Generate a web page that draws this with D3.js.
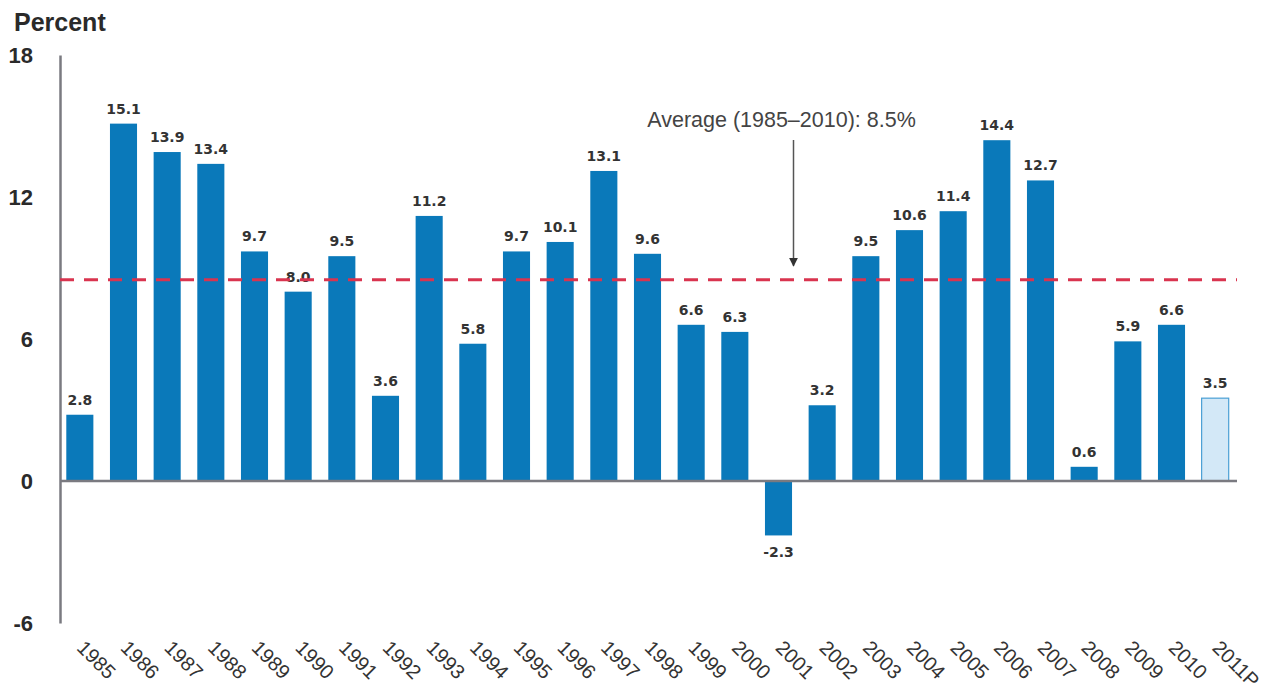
<!DOCTYPE html>
<html>
<head>
<meta charset="utf-8">
<script src="https://cdn.jsdelivr.net/npm/d3@7"></script>
<style>
  html, body { margin: 0; padding: 0; background: #fff; }
  svg { display: block; font-family: "Liberation Sans", Arial, sans-serif; }
</style>
</head>
<body>
<svg id="chart" width="1266" height="694"></svg>
<script>
// Annual growth, percent
const years = ["1985","1986","1987","1988","1989","1990","1991","1992","1993","1994",
  "1995","1996","1997","1998","1999","2000","2001","2002","2003","2004","2005",
  "2006","2007","2008","2009","2010","2011P"];
const values = [2.8,15.1,13.9,13.4,9.7,8.0,9.5,3.6,11.2,5.8,9.7,10.1,13.1,9.6,
  6.6,6.3,-2.3,3.2,9.5,10.6,11.4,14.4,12.7,0.6,5.9,6.6,3.5];
const projected = ["2011P"];
const yTicks = [-6, 0, 6, 12, 18];
const average = 8.5;
const averageLabel = "Average (1985\u20132010): 8.5%";

const data = years.map((y, i) => ({ year: y, value: values[i] }));

// plain hyphen for negatives
const fmtTick = v => String(v);
const fmtValue = v => v.toFixed(1);

const svg = d3.select("#chart");

const x = d3.scaleBand().domain(years).range([58, 1237]).paddingInner(0.38).paddingOuter(0.19);
const y = d3.scaleLinear().domain([-6, 18]).range([623, 55]);

// y axis: line plus bold labels, no ticks
const yAxis = svg.append("g").attr("transform", "translate(60,0)")
  .call(d3.axisLeft(y).tickValues(yTicks).tickSize(0).tickPadding(27).tickFormat(fmtTick));
yAxis.select(".domain").attr("stroke", "#7a7a80").attr("stroke-width", 2.5);
yAxis.selectAll("text").attr("font-size", 22).attr("font-weight", "bold")
  .attr("fill", "#2a2a2a").attr("font-family", "'Liberation Sans', Arial, sans-serif");

svg.append("text").attr("x", 14).attr("y", 31)
  .attr("font-size", 25).attr("font-weight", "bold").attr("fill", "#2a2a2a")
  .text("Percent");

// bars
svg.append("g").selectAll("rect").data(data).join("rect")
  .attr("x", d => x(d.year))
  .attr("width", x.bandwidth())
  .attr("y", d => y(Math.max(0, d.value)))
  .attr("height", d => Math.abs(y(d.value) - y(0)))
  .attr("fill", d => projected.includes(d.year) ? "#d3e8f7" : "#0a79ba")
  .attr("stroke", d => projected.includes(d.year) ? "#4a9fd4" : "none")
  .attr("stroke-width", 1.2);

// zero baseline
svg.append("line").attr("x1", 60).attr("x2", 1237)
  .attr("y1", y(0)).attr("y2", y(0))
  .attr("stroke", "#7a7a80").attr("stroke-width", 2.5);

// value labels
svg.append("g").selectAll("text").data(data).join("text")
  .attr("x", d => x(d.year) + x.bandwidth() / 2)
  .attr("y", d => d.value >= 0 ? y(d.value) - 10 : y(d.value) + 22)
  .attr("text-anchor", "middle")
  .attr("font-family", "'DejaVu Sans', sans-serif")
  .attr("font-size", 14).attr("font-weight", "bold").attr("fill", "#333")
  .text(d => fmtValue(d.value));

// average line
svg.append("line").attr("x1", 60).attr("x2", 1237)
  .attr("y1", y(average)).attr("y2", y(average))
  .attr("stroke", "#d9344f").attr("stroke-width", 3)
  .attr("stroke-dasharray", "14,10");

// annotation with arrow
const defs = svg.append("defs");
defs.append("marker").attr("id", "arrow").attr("viewBox", "0 0 10 10")
  .attr("refX", 9).attr("refY", 5).attr("markerWidth", 6).attr("markerHeight", 6)
  .attr("orient", "auto")
  .append("path").attr("d", "M0,0L10,5L0,10z").attr("fill", "#333");

const annX = x("2001") + x.bandwidth() / 2 + 15;
svg.append("text").attr("x", annX - 12).attr("y", 127)
  .attr("text-anchor", "middle").attr("font-size", 21.5).attr("fill", "#444")
  .text(averageLabel);
svg.append("line").attr("x1", annX).attr("x2", annX)
  .attr("y1", 140).attr("y2", y(average) - 14)
  .attr("stroke", "#555").attr("stroke-width", 1.5)
  .attr("marker-end", "url(#arrow)");

// rotated year labels
svg.append("g").selectAll("text").data(data).join("text")
  .attr("transform", d => `translate(${x(d.year) + x.bandwidth() / 2 - 4},${649}) rotate(45)`)
  .attr("text-anchor", "start")
  .attr("font-size", 20).attr("fill", "#333")
  .text(d => d.year);
</script>
</body>
</html>
